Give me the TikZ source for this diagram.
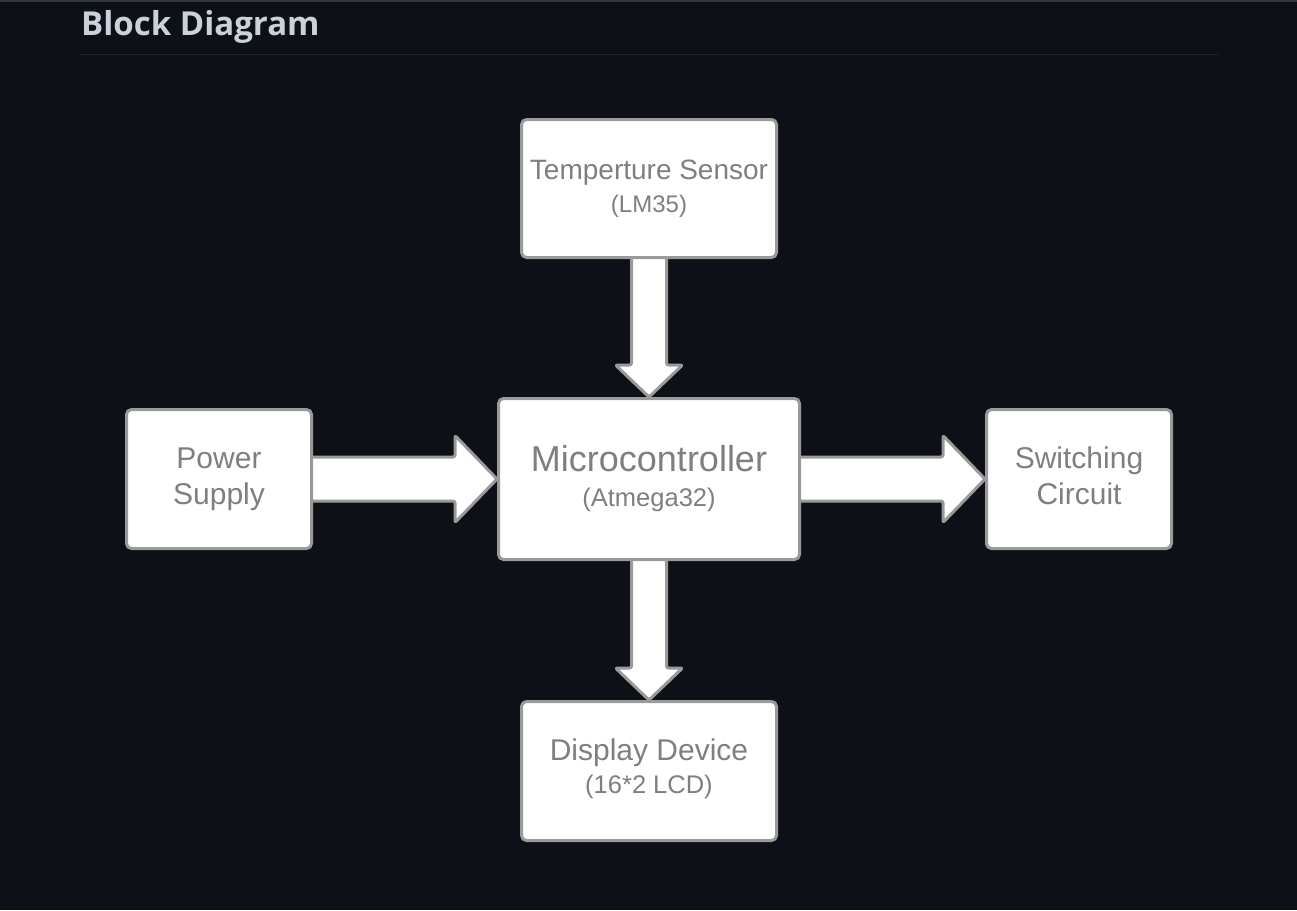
\documentclass[tikz,border=0pt]{standalone}
\usepackage{fontspec}
\setmainfont{Liberation Sans}
\newfontfamily\headfont{Open Sans}
\usetikzlibrary{calc}
\pgfdeclarelayer{bg}
\pgfdeclarelayer{arrows}
\pgfsetlayers{bg,arrows,main}
\definecolor{bgc}{HTML}{0D1117}
\definecolor{headc}{HTML}{C9D1D9}
\definecolor{rulec}{HTML}{21262D}
\definecolor{topc}{HTML}{30363D}
\definecolor{txtc}{HTML}{7F7F7F}
\definecolor{edgec}{HTML}{9A9A9A}
\tikzset{
  blockbox/.style={draw=edgec, line width=3pt, fill=white, rounded corners=5pt,
    inner sep=0pt, align=center, text=txtc},
  blockarrow/.style={draw=edgec, line width=3pt, fill=white, line join=round, rounded corners=2pt},
}
\begin{document}
\begin{tikzpicture}[x=1pt,y=-1pt]
\begin{pgfonlayer}{bg}
\fill[bgc] (0,0) rectangle (1297,910);
\fill[topc] (0,0) rectangle (1297,1.5);
\draw[rulec, line width=1pt] (80,54.5) -- (1219,54.5);
\end{pgfonlayer}
\useasboundingbox (0,0) rectangle (1297,910);
\node[anchor=base west, inner sep=0pt, text=headc, font=\headfont\bfseries\fontsize{33}{38}\selectfont] (head) at (81,35) {Block Diagram};

% blocks
\node[blockbox, minimum width=255pt, minimum height=138pt,
  font=\fontsize{28}{33}\selectfont] (ts) at (649,188.5)
  {Temperture Sensor\\{\fontsize{24}{33}\selectfont (LM35)}};
\node[blockbox, minimum width=301pt, minimum height=161pt,
  font=\fontsize{36}{35}\selectfont] (mc) at (649,479)
  {Microcontroller\\{\fontsize{25.5}{35}\selectfont (Atmega32)}};
\node[blockbox, minimum width=185pt, minimum height=139pt,
  font=\fontsize{30}{36}\selectfont] (ps) at (219,479)
  {Power\\Supply};
\node[blockbox, minimum width=185pt, minimum height=139pt, text depth=6pt,
  font=\fontsize{30}{36}\selectfont] (sw) at (1079,479)
  {Switching\\Circuit};
\node[blockbox, minimum width=255pt, minimum height=139pt, text depth=9pt,
  font=\fontsize{30}{33}\selectfont] (dd) at (649,771)
  {Display Device\\{\fontsize{25.5}{33}\selectfont (16*2 LCD)}};

% arrows (behind boxes)
\begin{pgfonlayer}{arrows}
\foreach \s/\e in {ts/mc, mc/dd} {
  \draw[blockarrow] let \p1=(\s.south), \p2=(\e.north) in
    (\x1-17.5pt,\y1+2pt) -- (\x1-17.5pt,\y2+32pt) -- (\x1-33.5pt,\y2+32pt)
    -- (\x2,\y2) -- (\x1+33.5pt,\y2+32pt) -- (\x1+17.5pt,\y2+32pt)
    -- (\x1+17.5pt,\y1+2pt) -- cycle;
}
\foreach \s/\e in {ps/mc, mc/sw} {
  \draw[blockarrow] let \p1=(\s.east), \p2=(\e.west) in
    (\x1-2pt,\y2+22pt) -- (\x2-42pt,\y2+22pt) -- (\x2-42pt,\y2+43.5pt)
    -- (\x2,\y2) -- (\x2-42pt,\y2-43.5pt) -- (\x2-42pt,\y2-22pt)
    -- (\x1-2pt,\y2-22pt) -- cycle;
}
\end{pgfonlayer}
\end{tikzpicture}
\end{document}
